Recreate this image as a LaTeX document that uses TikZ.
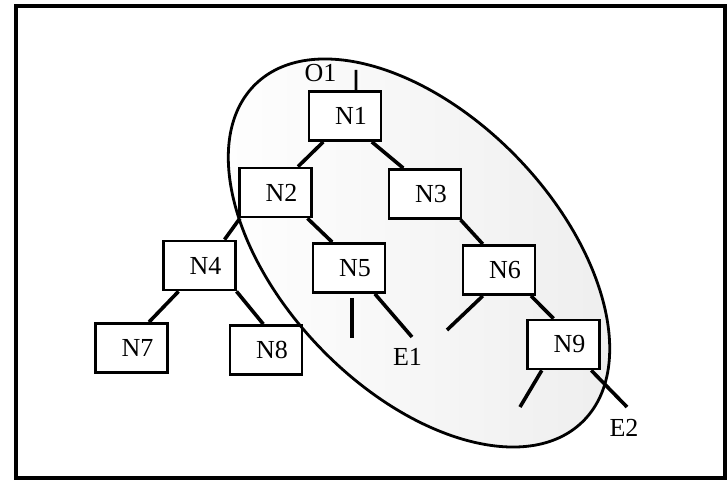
\documentclass[tikz,border=0pt]{standalone}
\usepackage{fontspec}
\setmainfont{Liberation Serif}

\begin{document}
\begin{tikzpicture}[x=0.5pt, y=-0.5pt,
    treenode/.style={draw, line width=1.4pt, minimum width=36pt, minimum height=24.5pt, inner sep=0pt, fill=white, font=\fontsize{13}{15}\selectfont, execute at begin node=\hspace*{6pt}},
    tag/.style={inner sep=0pt, font=\fontsize{13}{15}\selectfont},
    link/.style={line width=1.8pt},
    region/.style={shift={(419,253)}, rotate=-46}
]
\useasboundingbox (0,0) rectangle (728,480);
\draw[line width=1.6pt] (16,6) rectangle (725,478);

% shaded region
\begin{scope}
  \clip[region] (0,0) ellipse [x radius=117.5pt, y radius=68.5pt];
  \shade[left color=white, middle color=black!17, right color=black!7] (200,40) rectangle (640,460);
\end{scope}

\node[treenode] (N1) at (345,116) {N1};
\node[treenode] (N2) at (275.5,192.5) {N2};
\node[treenode] (N3) at (425,194) {N3};
\node[treenode] (N4) at (199.5,265.5) {N4};
\node[treenode] (N5) at (349,268) {N5};
\node[treenode] (N6) at (499,270) {N6};
\node[treenode] (N7) at (131.5,348) {N7};
\node[treenode] (N8) at (266,350) {N8};
\node[treenode] (N9) at (563.5,344.5) {N9};

\node[tag] (O1) at (320.5,73.5) {O1};
\node[tag] (E1) at (407.5,356.5) {E1};
\node[tag] (E2) at (624,428) {E2};

% free ends
\coordinate (o1top) at (356,70);
\coordinate (n5stub) at (352,338);
\coordinate (e1end) at (412,337);
\coordinate (n6stub) at (447,330);
\coordinate (n9stub) at (520,407);
\coordinate (e2end) at (627,407);

\draw[link] (N1.230) -- (N2.49);
\draw[link] (N1.-44) -- (N3.130);
\draw[link] (N2.216) -- (N4.46);
\draw[link] (N2.-39) -- (N5.123);
\draw[link] (N3.-36) -- (N6.122);
\draw[link] (N4.231) -- (N7.56);
\draw[link] (N4.-35) -- (N8.96);
\draw[link] (N6.-39) -- (N9.111);

\draw[line width=1.3pt] (N1.67) -- (o1top);
\draw[link] ([xshift=1.5pt,yshift=-2pt]N5.south) -- (n5stub);
\draw[link] (N5.-45) -- (e1end);
\draw[link] (N6.238) -- (n6stub);
\draw[link] (N9.230) -- (n9stub);
\draw[link] (N9.-43) -- (e2end);

\draw[line width=1.4pt, region] (0,0) ellipse [x radius=117.5pt, y radius=68.5pt];
\end{tikzpicture}
\end{document}
